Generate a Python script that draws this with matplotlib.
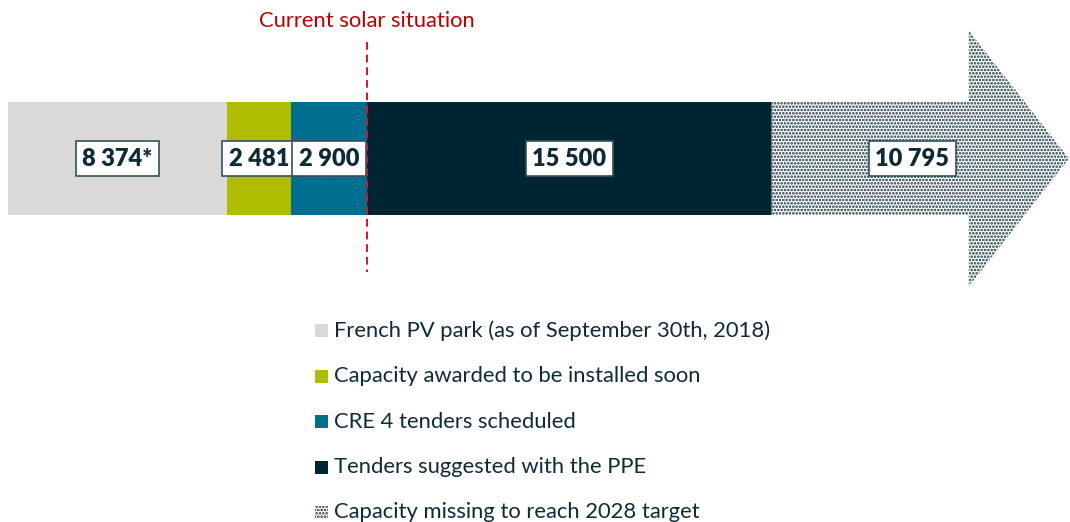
import matplotlib
matplotlib.use("Agg")
import matplotlib.pyplot as plt
from matplotlib.patches import Polygon, Rectangle
import numpy as np

# data (MW)
categories = ["French PV park (as of September 30th, 2018)",
              "Capacity awarded to be installed soon",
              "CRE 4 tenders scheduled",
              "Tenders suggested with the PPE",
              "Capacity missing to reach 2028 target"]
values = [8374, 2481, 2900, 15500, 10795]
labels = ["8 374*", "2 481", "2 900", "15 500", "10 795"]
colors = ["#d9d9d9", "#afbd00", "#006e8f", "#002532", "white"]
current_idx = 3  # line drawn before this segment

plt.rcParams["font.family"] = ["Lato", "DejaVu Sans"]
plt.rcParams["hatch.linewidth"] = 1.25
text_col = "#0e2b36"
dot_col = "#0f2c37"

fig = plt.figure(figsize=(10.7, 5.22), dpi=100)
ax = fig.add_axes([0, 0, 1, 1])
px = 0.0261  # px per MW
ax.set_xlim(-8 / px, (1070 - 8) / px)
ax.set_ylim(522, 0)
ax.axis("off")

bar_y, bar_h = 158.5, 113
lefts = np.concatenate([[0], np.cumsum(values)[:-1]])

# solid segments
ax.barh([bar_y] * 4, values[:4], left=lefts[:4], height=bar_h,
        color=colors[:4], edgecolor="none")

# dotted arrow for the missing capacity
start, total = lefts[-1], sum(values)
tip = total + 600
head_start = tip - 3840
head_half = 128
arrow = Polygon([(start, bar_y - bar_h / 2), (head_start, bar_y - bar_h / 2),
                 (head_start, bar_y - head_half), (tip, bar_y),
                 (head_start, bar_y + head_half), (head_start, bar_y + bar_h / 2),
                 (start, bar_y + bar_h / 2)],
                closed=True, facecolor="white", edgecolor=dot_col,
                hatch=".....", linewidth=0)
ax.add_patch(arrow)

# value boxes
for lft, v, lab in zip(lefts, values, labels):
    ax.text(lft + v / 2, bar_y, lab, ha="center", va="center",
            fontsize=17, fontweight="heavy", color=text_col,
            bbox=dict(boxstyle="square,pad=0.28", fc="white", ec="#34525c", lw=1.2))

# current situation marker
xc = sum(values[:current_idx])
ax.plot([xc, xc], [42, 272], color="#e8101a", lw=1.4, ls=(0, (4, 2.5)))
ax.text(xc, 21, "Current solar situation", ha="center", va="center",
        fontsize=15.8, color="#c00000")

# legend (manual)
hatches = [None, None, None, None, "....."]
for i, (cat, col) in enumerate(zip(categories, colors)):
    y = 330.5 + 45.5 * i
    sq = Rectangle((315 / 1070, 1 - (y + 6.5) / 522), 13 / 1070, 13 / 522,
                   transform=fig.transFigure, facecolor=col,
                   edgecolor=dot_col if hatches[i] else "none",
                   hatch=hatches[i], linewidth=0)
    fig.patches.append(sq)
    fig.text(334 / 1070, 1 - y / 522, cat, ha="left", va="center",
             fontsize=15.8, color=text_col)

fig.savefig("out.png", dpi=100)
